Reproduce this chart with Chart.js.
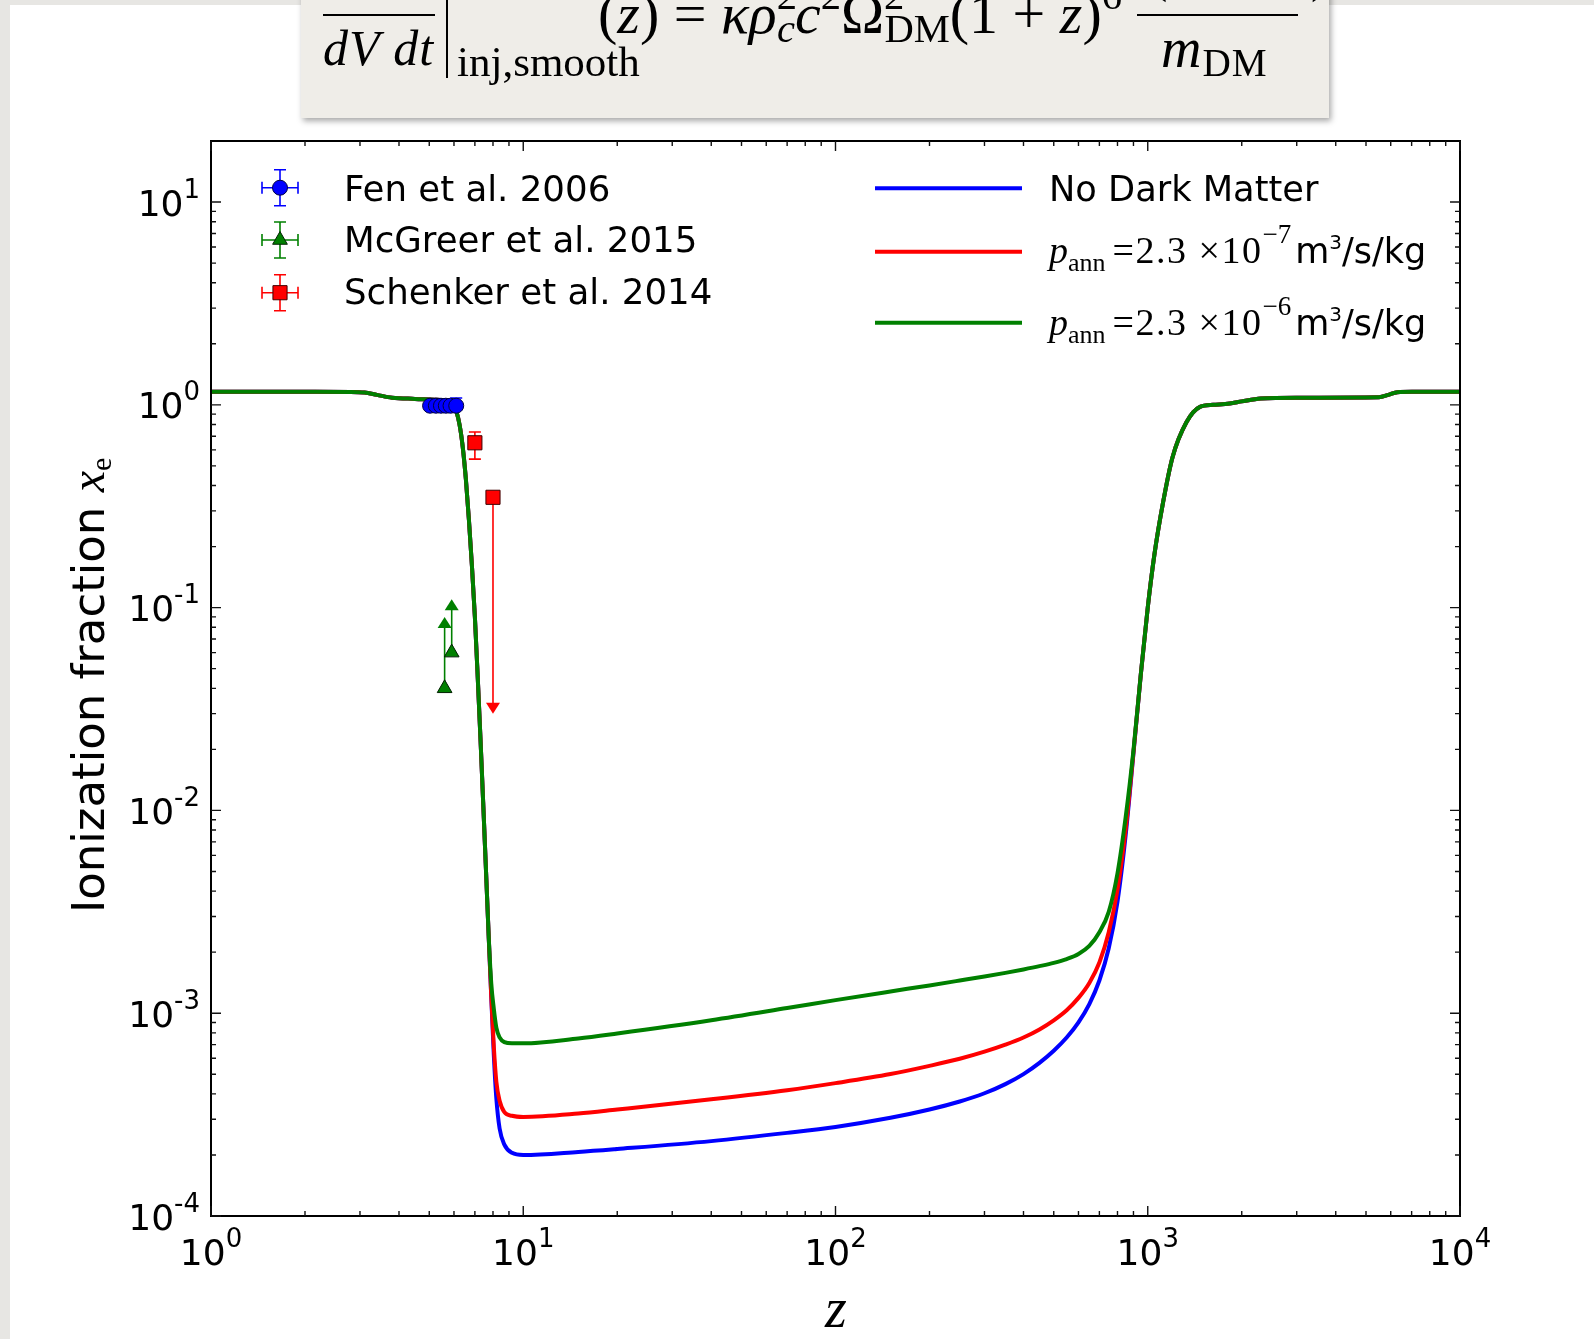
<!DOCTYPE html>
<html>
<head>
<meta charset="utf-8">
<script src="https://cdn.jsdelivr.net/npm/chart.js@4.4.1/dist/chart.umd.min.js"></script>
<style>
  html, body { margin: 0; padding: 0; }
  body { width: 1594px; height: 1339px; position: relative; overflow: hidden; background: #e7e6e3; font-family: "DejaVu Sans", sans-serif; }
  #sheet { position: absolute; left: 10px; top: 5px; width: 1584px; height: 1334px; background: #fff; }
  #fbox { position: absolute; left: 301px; top: -60px; width: 1028px; height: 178px; background: #efede8; box-shadow: 2px 3px 6px rgba(0,0,0,0.35); }
  #wrap { position: absolute; left: 0; top: 0; width: 1594px; height: 1339px; }
  .t { position: absolute; white-space: nowrap; line-height: 1; color: #000; z-index: 5; }
  .serif { font-family: "Liberation Serif", serif; }
  .sans { font-family: "DejaVu Sans", sans-serif; }
  .sup { font-size: 0.7em; position: relative; top: -0.6em; }
  .sub { font-size: 0.7em; position: relative; top: 0.22em; }
  .rule { position: absolute; background: #000; z-index: 5; }
</style>
</head>
<body>
<div id="sheet"></div>

<!-- formula box, cut off by the top edge -->
<div id="fbox"></div>
<div class="rule" style="left:323px; top:14px; width:112px; height:2px"></div>
<div class="t serif" style="left:323px; top:23px; font-size:50px; letter-spacing:1px"><i>dV dt</i></div>
<div class="rule" style="left:446px; top:-5px; width:2px; height:83px"></div>
<div class="t serif" style="left:457px; top:40px; font-size:43px">inj,smooth</div>
<div class="t serif" style="left:598px; top:-15px; font-size:58px">(<i>z</i>) = <i>κρ</i><span class="sup">2</span><span class="sub" style="margin-left:-20px"><i>c</i></span><i>c</i><span class="sup">2</span>Ω<span class="sup">2</span><span class="sub" style="margin-left:-20px">DM</span>(1 + <i>z</i>)<span class="sup">6</span></div>
<div class="t serif" style="left:1150px; top:-52px; font-size:52px">(⟨σ<i>v</i>⟩<span class="sub">ann</span>)</div>
<div class="rule" style="left:1137px; top:14px; width:161px; height:2px"></div>
<div class="t serif" style="left:1161px; top:20px; font-size:56px; letter-spacing:1px"><i>m</i><span class="sub">DM</span></div>

<div id="wrap"><canvas id="xeChart"></canvas></div>

<!-- legend texts -->
<div class="t sans" style="left:344px; top:171px; font-size:35.6px">Fen et al. 2006</div>
<div class="t sans" style="left:344px; top:222px; font-size:35.6px">McGreer et al. 2015</div>
<div class="t sans" style="left:344px; top:274px; font-size:35.6px">Schenker et al. 2014</div>
<div class="t sans" style="left:1049px; top:171px; font-size:35.2px">No Dark Matter</div>
<div class="t serif" style="left:1049px; top:231px; font-size:38px"><i>p</i><span style="font-size:26px; position:relative; top:8px">ann</span><span style="margin-left:7px; letter-spacing:1.5px">=2.3 ×10</span><span style="font-size:27px; position:relative; top:-20px">−7</span><span class="sans" style="font-size:35px; margin-left:4px">m<span style="font-size:20px; position:relative; top:-14px">3</span>/s/kg</span></div>
<div class="t serif" style="left:1049px; top:303px; font-size:38px"><i>p</i><span style="font-size:26px; position:relative; top:8px">ann</span><span style="margin-left:7px; letter-spacing:1.5px">=2.3 ×10</span><span style="font-size:27px; position:relative; top:-20px">−6</span><span class="sans" style="font-size:35px; margin-left:4px">m<span style="font-size:20px; position:relative; top:-14px">3</span>/s/kg</span></div>

<!-- axis titles -->
<div class="t sans" style="left:0; top:0; font-size:45px; transform-origin:0 0; transform:translate(64px, 913px) rotate(-90deg)">Ionization fraction <span class="serif" style="font-size:48px"><i>x</i><span style="font-size:30px; position:relative; top:7px">e</span></span></div>
<div class="t serif" style="left:736px; width:200px; text-align:center; top:1280px; font-size:56px"><i>z</i></div>

<script>
// redshift grid and ionization fraction curves
const zGrid = [1, 2, 2.8, 3.1, 3.4, 3.8, 4.5, 5.2, 5.7, 5.95,
  6.1, 6.25, 6.4, 6.55, 6.7, 6.85, 7.0, 7.15, 7.3, 7.45,
  7.6, 7.75, 7.9, 8.05, 8.2, 8.4, 8.7, 9.2, 10, 15,
  20, 40, 70, 100, 150, 200, 250, 300, 350, 400,
  450, 500, 550, 600, 650, 700, 750, 800, 850, 900,
  950, 1000, 1050, 1120, 1200, 1330, 1470, 1620, 1830, 2000,
  2300, 3000, 5500, 5900, 6300, 7000, 10000];

const xeNoDM = [1.16, 1.16, 1.158, 1.15, 1.12, 1.085, 1.07, 1.06, 1.045, 1.0,
  0.93, 0.8, 0.62, 0.43, 0.27, 0.16, 0.09, 0.045, 0.022, 0.0105,
  0.005, 0.0024, 0.0012, 0.00062, 0.00038, 0.00027, 0.000225, 0.000205, 0.0002, 0.000207,
  0.000214, 0.000234, 0.000257, 0.000275, 0.000305, 0.000335, 0.000367, 0.000403, 0.000447, 0.000501,
  0.000569, 0.000653, 0.000759, 0.000902, 0.00111, 0.00145, 0.00209, 0.00355, 0.0076, 0.0191,
  0.0468, 0.1, 0.182, 0.331, 0.55, 0.82, 0.977, 1.0, 1.015, 1.04,
  1.075, 1.085, 1.09, 1.12, 1.155, 1.16, 1.16];

const xeAnn7 = [1.16, 1.16, 1.158, 1.15, 1.12, 1.085, 1.07, 1.06, 1.045, 1.0,
  0.93, 0.8, 0.62, 0.43, 0.27, 0.16, 0.09, 0.045, 0.022, 0.0105,
  0.005, 0.0024, 0.0012, 0.00068, 0.00046, 0.00037, 0.000325, 0.000312, 0.000308, 0.00032,
  0.000335, 0.000376, 0.000417, 0.000452, 0.000501, 0.00055, 0.000596, 0.000646, 0.0007, 0.000759,
  0.000832, 0.000923, 0.001035, 0.00119, 0.00141, 0.00178, 0.00251, 0.00407, 0.0081, 0.0193,
  0.0468, 0.1, 0.182, 0.331, 0.55, 0.82, 0.977, 1.0, 1.015, 1.04,
  1.075, 1.085, 1.09, 1.12, 1.155, 1.16, 1.16];

const xeAnn6 = [1.16, 1.16, 1.158, 1.15, 1.12, 1.085, 1.07, 1.06, 1.045, 1.0,
  0.93, 0.8, 0.62, 0.43, 0.27, 0.16, 0.09, 0.045, 0.022, 0.0105,
  0.005, 0.0024, 0.0014, 0.00105, 0.00085, 0.00076, 0.00072, 0.00071, 0.00071, 0.00075,
  0.000794, 0.000923, 0.00106, 0.00116, 0.00128, 0.001371, 0.001449, 0.001517, 0.001581, 0.001644,
  0.001706, 0.00177, 0.001849, 0.001959, 0.002148, 0.00251, 0.00316, 0.0049, 0.0093, 0.0198,
  0.0468, 0.1, 0.182, 0.331, 0.55, 0.82, 0.977, 1.0, 1.015, 1.04,
  1.075, 1.085, 1.09, 1.12, 1.155, 1.16, 1.16];

// observations
const fenZ = [5.03, 5.25, 5.45, 5.65, 5.85, 6.1];
const fenXe = [0.99, 0.99, 0.99, 0.99, 0.99, 0.99];
const fenErrLo = [0.01, 0.01, 0.01, 0.02, 0.03, 0.04];
const fenErrHi = [0.01, 0.01, 0.01, 0.02, 0.05, 0.09];

const mcgZ = [5.6, 5.9];
const mcgXe = [0.04, 0.06];
const mcgLimit = [0.09, 0.11];

const schZ = [7.0, 8.0];
const schXe = [0.65, 0.35];
const schErrLo = [0.11, 0];
const schErrHi = [0.085, 0];
const schLimit = [null, 0.03];

const xTickValues = [1, 10, 100, 1000, 10000];
const yTickValues = [1e-4, 1e-3, 1e-2, 1e-1, 1, 10];

const BLUE = '#0000ff', RED = '#ff0000', GREEN = '#008000';

function pairs(xs, ys) {
  return xs.map((x, i) => ({ x: x, y: ys[i] }));
}

function vbar(ctx, px, ya, yb, cap) {
  ctx.beginPath();
  ctx.moveTo(px, ya); ctx.lineTo(px, yb);
  if (cap) {
    ctx.moveTo(px - cap, ya); ctx.lineTo(px + cap, ya);
    ctx.moveTo(px - cap, yb); ctx.lineTo(px + cap, yb);
  }
  ctx.stroke();
}

function hbar(ctx, py, xa, xb, cap) {
  ctx.beginPath();
  ctx.moveTo(xa, py); ctx.lineTo(xb, py);
  if (cap) {
    ctx.moveTo(xa, py - cap); ctx.lineTo(xa, py + cap);
    ctx.moveTo(xb, py - cap); ctx.lineTo(xb, py + cap);
  }
  ctx.stroke();
}

// dir = -1: arrow pointing up, +1: pointing down
function arrow(ctx, px, fromY, tipY, dir, color) {
  ctx.strokeStyle = color;
  ctx.fillStyle = color;
  ctx.beginPath();
  ctx.moveTo(px, fromY); ctx.lineTo(px, tipY - dir * 8);
  ctx.stroke();
  ctx.beginPath();
  ctx.moveTo(px, tipY);
  ctx.lineTo(px - 7, tipY - dir * 11);
  ctx.lineTo(px + 7, tipY - dir * 11);
  ctx.closePath();
  ctx.fill();
}

function marker(ctx, style, x, y, r, fill, edge) {
  ctx.fillStyle = fill;
  ctx.strokeStyle = edge;
  ctx.lineWidth = 1;
  ctx.beginPath();
  if (style === 'circle') {
    ctx.arc(x, y, r, 0, Math.PI * 2);
  } else if (style === 'triangle') {
    ctx.moveTo(x, y - r);
    ctx.lineTo(x + r * 0.866, y + r / 2);
    ctx.lineTo(x - r * 0.866, y + r / 2);
    ctx.closePath();
  } else {
    const s = r * Math.SQRT1_2;
    ctx.rect(x - s, y - s, 2 * s, 2 * s);
  }
  ctx.fill();
  ctx.stroke();
}

function powLabel(ctx, value, x, y, align) {
  const e = Math.round(Math.log10(value));
  const es = e < 0 ? '-' + Math.abs(e) : String(e);
  ctx.font = '36px "DejaVu Sans"';
  const wb = ctx.measureText('10').width;
  ctx.font = '26px "DejaVu Sans"';
  const we = ctx.measureText(es).width;
  const start = align === 'center' ? x - (wb + we) / 2 : x - (wb + we);
  ctx.fillStyle = '#000';
  ctx.textAlign = 'left';
  ctx.textBaseline = 'alphabetic';
  ctx.font = '36px "DejaVu Sans"';
  ctx.fillText('10', start, y);
  ctx.font = '26px "DejaVu Sans"';
  ctx.fillText(es, start + wb, y - 18);
}

const decor = {
  id: 'decor',
  beforeDatasetsDraw(chart) {
    const { ctx, scales: { x, y } } = chart;
    ctx.save();
    ctx.lineWidth = 1.6;

    ctx.strokeStyle = BLUE;
    fenZ.forEach((z, i) => {
      vbar(ctx, x.getPixelForValue(z), y.getPixelForValue(fenXe[i] - fenErrLo[i]),
        y.getPixelForValue(fenXe[i] + fenErrHi[i]), 6);
    });

    mcgZ.forEach((z, i) => {
      arrow(ctx, x.getPixelForValue(z), y.getPixelForValue(mcgXe[i]),
        y.getPixelForValue(mcgLimit[i]), -1, GREEN);
    });

    schZ.forEach((z, i) => {
      const px = x.getPixelForValue(z);
      if (schLimit[i] !== null) {
        arrow(ctx, px, y.getPixelForValue(schXe[i]), y.getPixelForValue(schLimit[i]), 1, RED);
      } else {
        ctx.strokeStyle = RED;
        vbar(ctx, px, y.getPixelForValue(schXe[i] - schErrLo[i]),
          y.getPixelForValue(schXe[i] + schErrHi[i]), 6);
      }
    });
    ctx.restore();
  },
  afterDraw(chart) {
    const { ctx, chartArea: a, scales: { x, y } } = chart;
    ctx.save();

    // frame
    ctx.strokeStyle = '#000';
    ctx.lineWidth = 2;
    ctx.strokeRect(a.left, a.top, a.right - a.left, a.bottom - a.top);

    // inward ticks on all four sides
    ctx.lineWidth = 1.4;
    ctx.strokeStyle = '#111';
    const xTick = (v, len) => {
      const px = x.getPixelForValue(v);
      ctx.beginPath();
      ctx.moveTo(px, a.bottom); ctx.lineTo(px, a.bottom - len);
      ctx.moveTo(px, a.top); ctx.lineTo(px, a.top + len);
      ctx.stroke();
    };
    const yTick = (v, len) => {
      const py = y.getPixelForValue(v);
      ctx.beginPath();
      ctx.moveTo(a.left, py); ctx.lineTo(a.left + len, py);
      ctx.moveTo(a.right, py); ctx.lineTo(a.right - len, py);
      ctx.stroke();
    };
    x.ticks.forEach(t => xTick(t.value, 10));
    y.ticks.forEach(t => yTick(t.value, 10));
    for (let d = 0; d < 4; d++) {
      for (let m = 2; m <= 9; m++) xTick(m * Math.pow(10, d), 5);
    }
    for (let d = -4; d <= 1; d++) {
      for (let m = 2; m <= 9; m++) {
        const v = m * Math.pow(10, d);
        if (v < y.max) yTick(v, 5);
      }
    }

    // tick labels
    x.ticks.forEach(t => powLabel(ctx, t.value, x.getPixelForValue(t.value), a.bottom + 49, 'center'));
    y.ticks.forEach(t => powLabel(ctx, t.value, a.left - 11, y.getPixelForValue(t.value) + 13.5, 'right'));

    // legend symbols, left block
    const lx = 280;
    const rows = [
      { cy: 187.7, color: BLUE, style: 'circle', r: 7.5, edge: '#000040' },
      { cy: 240, color: GREEN, style: 'triangle', r: 8.5, edge: '#002000' },
      { cy: 292.7, color: RED, style: 'rect', r: 10, edge: '#400000' }
    ];
    rows.forEach(row => {
      ctx.strokeStyle = row.color;
      ctx.lineWidth = 1.6;
      hbar(ctx, row.cy, lx - 18, lx + 18, 6);
      vbar(ctx, lx, row.cy - 18, row.cy + 18, 6);
      marker(ctx, row.style, lx, row.cy, row.r, row.color, row.edge);
    });

    // legend lines, right block
    ctx.lineWidth = 4;
    [[188.3, BLUE], [251.7, RED], [322.7, GREEN]].forEach(([ly, c]) => {
      ctx.strokeStyle = c;
      ctx.beginPath();
      ctx.moveTo(875, ly); ctx.lineTo(1022, ly);
      ctx.stroke();
    });
    ctx.restore();
  }
};

Chart.defaults.font.family = '"DejaVu Sans", sans-serif';

const curve = (label, values, color, order) => ({
  label: label,
  data: pairs(zGrid, values),
  borderColor: color,
  backgroundColor: color,
  borderWidth: 4,
  pointRadius: 0,
  cubicInterpolationMode: 'monotone',
  borderJoinStyle: 'round',
  borderCapStyle: 'round',
  fill: false,
  order: order
});

const obs = (label, zs, xs, style, r, color, edge) => ({
  label: label,
  data: pairs(zs, xs),
  showLine: false,
  pointStyle: style,
  pointRadius: r,
  backgroundColor: color,
  borderColor: edge,
  borderWidth: 1,
  order: 0
});

new Chart(document.getElementById('xeChart'), {
  type: 'line',
  data: {
    datasets: [
      obs('Fen et al. 2006', fenZ, fenXe, 'circle', 7.5, BLUE, '#000040'),
      obs('McGreer et al. 2015', mcgZ, mcgXe, 'triangle', 8.5, GREEN, '#002000'),
      obs('Schenker et al. 2014', schZ, schXe, 'rect', 10, RED, '#400000'),
      curve('No Dark Matter', xeNoDM, BLUE, 3),
      curve('p_ann = 2.3e-7 m^3/s/kg', xeAnn7, RED, 2),
      curve('p_ann = 2.3e-6 m^3/s/kg', xeAnn6, GREEN, 1)
    ]
  },
  options: {
    responsive: true,
    maintainAspectRatio: false,
    devicePixelRatio: 1,
    animation: false,
    events: [],
    layout: { padding: { left: 0, top: 141, right: 134, bottom: 0 } },
    plugins: {
      legend: { display: false },
      tooltip: { enabled: false }
    },
    scales: {
      x: {
        type: 'logarithmic',
        min: 1,
        max: 10000,
        grid: { display: false },
        border: { display: false },
        ticks: { display: false },
        afterBuildTicks: s => { s.ticks = xTickValues.map(v => ({ value: v })); },
        afterFit: s => { s.height = 123; }
      },
      y: {
        type: 'logarithmic',
        min: 1e-4,
        max: 20,
        grid: { display: false },
        border: { display: false },
        ticks: { display: false },
        afterBuildTicks: s => { s.ticks = yTickValues.map(v => ({ value: v })); },
        afterFit: s => { s.width = 211; }
      }
    }
  },
  plugins: [decor]
});
</script>
</body>
</html>
